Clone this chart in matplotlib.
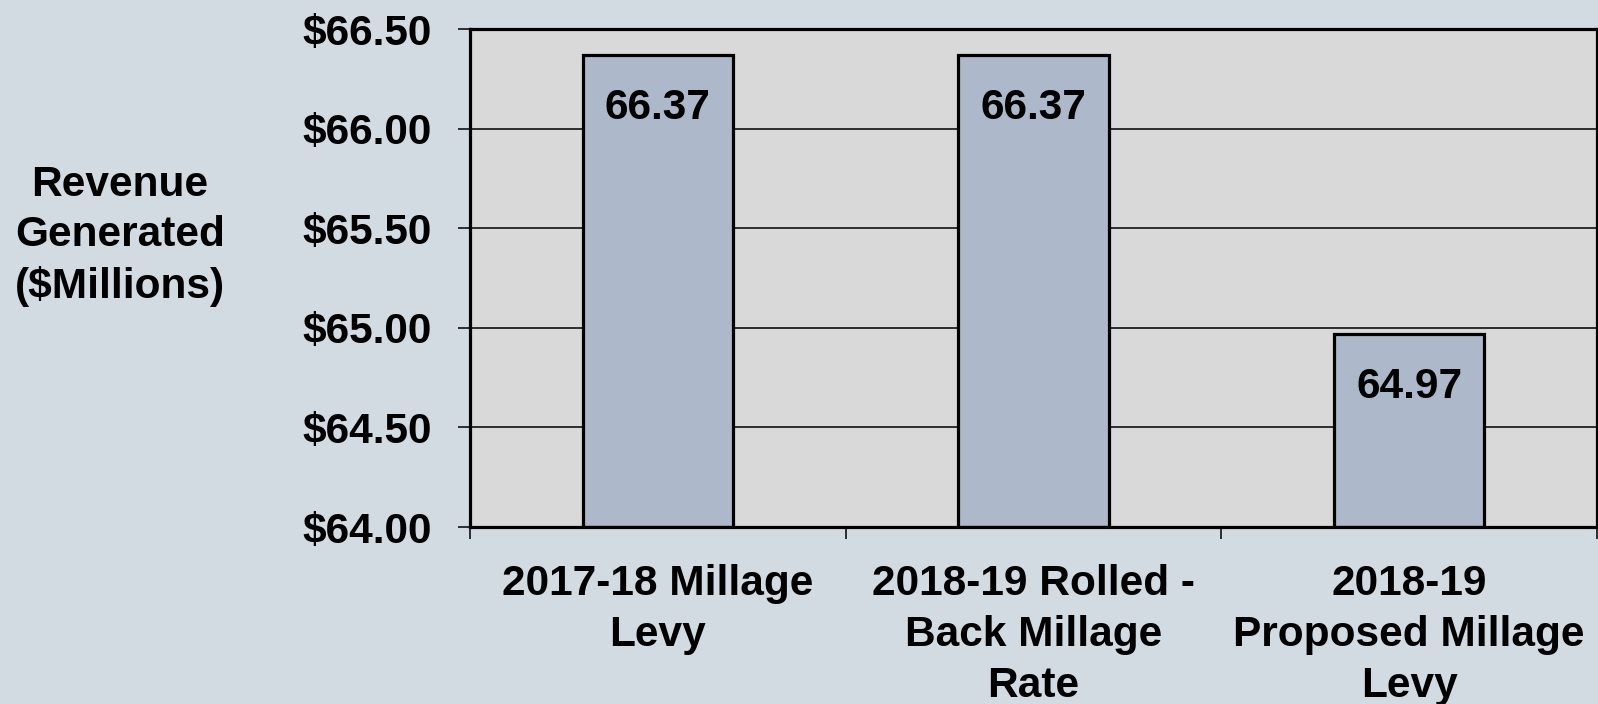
import matplotlib
matplotlib.use("Agg")
import matplotlib.pyplot as plt
from matplotlib.ticker import FixedLocator

categories = ["2017-18 Millage\nLevy", "2018-19 Rolled -\nBack Millage\nRate", "2018-19\nProposed Millage\nLevy"]
values = [66.37, 66.37, 64.97]
value_labels = ["66.37", "66.37", "64.97"]
yticks = [64.0, 64.5, 65.0, 65.5, 66.0, 66.5]
ytick_labels = ["$64.00", "$64.50", "$65.00", "$65.50", "$66.00", "$66.50"]
ylabel = "Revenue\nGenerated\n($Millions)"

FONT = "Liberation Sans"
FS = 30.5

fig = plt.figure(figsize=(15.98, 7.04), dpi=100)
fig.patch.set_facecolor("#D2DAE2")
ax = fig.add_axes([470/1598, 1 - 527/704, 1127/1598, 498/704])
ax.set_facecolor("#D9D9D9")

x = list(range(len(categories)))
ax.set_ylim(64.0, 66.5)
ax.set_xlim(-0.5, len(categories) - 0.5)

for yv in yticks:
    ax.axhline(yv, color="black", lw=1.1, zorder=1)

ax.bar(x, [v - 64.0 for v in values], bottom=64.0, width=0.4, color="#ADB8CA",
       edgecolor="black", linewidth=2.3, zorder=2)

for xi, v, lab in zip(x, values, value_labels):
    ax.annotate(lab, (xi, v), xytext=(0, -24), textcoords="offset points",
                ha="center", va="top", fontsize=FS, fontweight="bold",
                family=FONT, zorder=3)

ax.yaxis.set_major_locator(FixedLocator(yticks))
ax.set_yticklabels(ytick_labels, fontsize=FS, fontweight="bold", family=FONT)
ax.tick_params(axis="y", direction="out", length=8.6, width=1.1, pad=19)

ax.xaxis.set_major_locator(FixedLocator([i - 0.5 for i in range(len(categories) + 1)]))
ax.xaxis.set_minor_locator(FixedLocator(x))
ax.tick_params(axis="x", which="major", direction="out", length=8.6, width=1.1, labelbottom=False)
ax.tick_params(axis="x", which="minor", length=0, pad=26.5)
ax.set_xticks(x, minor=True)
ax.set_xticklabels(categories, minor=True, fontsize=FS, fontweight="bold", family=FONT,
                   linespacing=1.35, va="top")

for s in ["left", "top", "bottom"]:
    ax.spines[s].set_linewidth(2.3)
ax.spines["right"].set_linewidth(1.6)
for s in ax.spines.values():
    s.set_zorder(4)

fig.text(120/1598, 1 - 236/704, ylabel, ha="center", va="center", fontsize=FS,
         fontweight="bold", family=FONT, linespacing=1.33)

fig.savefig("out.png", dpi=100, facecolor=fig.get_facecolor())
